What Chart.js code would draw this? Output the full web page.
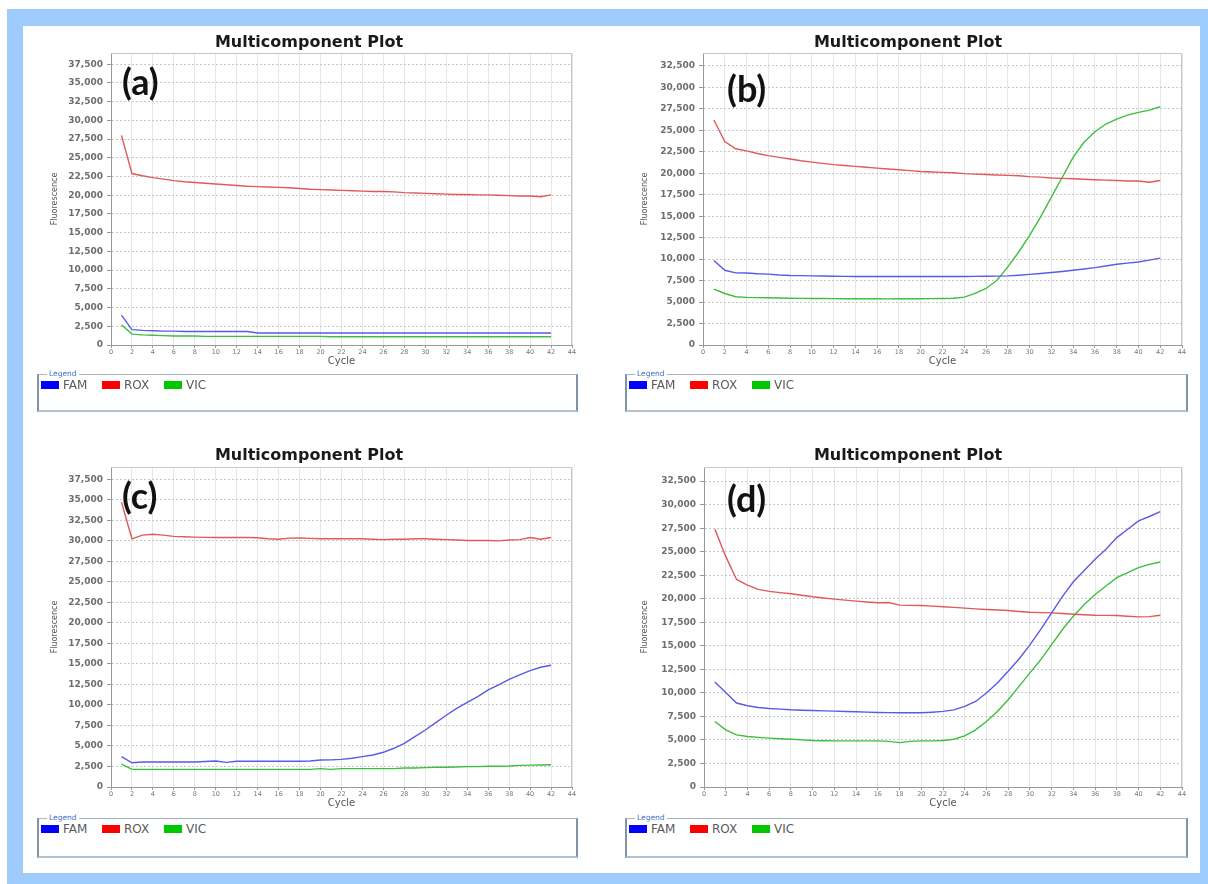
<!DOCTYPE html>
<html><head><meta charset="utf-8">
<script src="https://cdn.jsdelivr.net/npm/chart.js@4.4.1/dist/chart.umd.min.js"></script>
<style>
html,body{margin:0;padding:0;background:#fff;width:1208px;height:884px;overflow:hidden;position:relative}
#frame{position:absolute;left:7px;top:9px;width:1201px;height:875px;background:#9dcbfb}
#inner{position:absolute;left:23px;top:26px;width:1177px;height:847px;background:#fff}
canvas{position:absolute}
.tag{position:absolute;font-family:Lato,"DejaVu Sans",sans-serif;font-weight:700;font-size:36px;line-height:36px;color:#111}
.lg{position:absolute;box-sizing:border-box;border-top:1px solid #a7b5c4;border-left:2px solid #8193a9;border-right:2px solid #8193a9;border-bottom:2px solid #b4c1ce}
.cap{position:absolute;left:8px;top:-5px;font:7.5px "DejaVu Sans";color:#3d6fc9;background:#fff;padding:0 2px;line-height:8px}
.sw{position:absolute;top:6px;width:18px;height:8px}
.tx{position:absolute;top:3px;font:12px "DejaVu Sans";color:#5a5a5a;line-height:14px}
</style></head>
<body>
<div id="frame"></div><div id="inner"></div>
<canvas id="ca" width="536" height="340" style="left:46px;top:30px"></canvas>
<canvas id="cb" width="558" height="340" style="left:634px;top:30px"></canvas>
<canvas id="cc" width="536" height="370" style="left:46px;top:442px"></canvas>
<canvas id="cd" width="558" height="370" style="left:634px;top:442px"></canvas>
<div class="tag" style="left:122px;top:63px">(a)</div>
<div class="tag" style="left:727px;top:70px">(b)</div>
<div class="tag" style="left:122px;top:477px">(c)</div>
<div class="tag" style="left:727px;top:480px">(d)</div>
<div class="lg" id="la" style="left:37px;top:374px;width:541px;height:38px"></div>
<div class="lg" id="lb" style="left:625px;top:374px;width:563px;height:38px"></div>
<div class="lg" id="lc" style="left:37px;top:818px;width:541px;height:40px"></div>
<div class="lg" id="ld" style="left:625px;top:818px;width:563px;height:40px"></div>
<script>
const cycles = [1,2,3,4,5,6,7,8,9,10,11,12,13,14,15,16,17,18,19,20,21,22,23,24,25,26,27,28,29,30,31,32,33,34,35,36,37,38,39,40,41,42];
const seriesNames = ['FAM','ROX','VIC'];
const lineColors = ['#5a5ae6','#e05a5a','#3cbf3c'];
const swatchColors = ['#0000ff','#ff0000','#00c800'];
const xTicks = [0,2,4,6,8,10,12,14,16,18,20,22,24,26,28,30,32,34,36,38,40,42,44];
const yTicksAC = [0,2500,5000,7500,10000,12500,15000,17500,20000,22500,25000,27500,30000,32500,35000,37500];
const yTicksBD = [0,2500,5000,7500,10000,12500,15000,17500,20000,22500,25000,27500,30000,32500];

// Panel (a)
const famA = [4000,2050,1950,1900,1850,1850,1800,1800,1800,1800,1800,1800,1800,1600,1600,1600,1600,1600,1600,1600,1600,1600,1600,1600,1600,1600,1600,1600,1600,1600,1600,1600,1600,1600,1600,1600,1600,1600,1600,1600,1600,1600];
const roxA = [28000,22900,22600,22350,22150,21950,21800,21700,21600,21500,21400,21300,21200,21150,21100,21050,21000,20900,20800,20750,20700,20650,20600,20550,20500,20500,20450,20350,20300,20250,20200,20150,20100,20100,20050,20050,20000,19950,19900,19900,19800,20050];
const vicA = [2700,1450,1350,1300,1250,1200,1200,1200,1150,1150,1150,1150,1150,1150,1150,1150,1150,1150,1150,1150,1100,1100,1100,1100,1100,1100,1100,1100,1100,1100,1100,1100,1100,1100,1100,1100,1100,1100,1100,1100,1100,1100];

// Panel (b)
const famB = [9850,8700,8400,8380,8300,8250,8150,8100,8080,8050,8030,8000,7990,7980,7970,7990,7980,7970,7970,7970,7970,7970,7970,7980,7990,8000,8020,8050,8130,8220,8330,8440,8560,8700,8850,9010,9200,9400,9530,9670,9880,10120];
const roxB = [26200,23700,22850,22600,22300,22050,21850,21650,21450,21300,21150,21000,20900,20800,20700,20600,20500,20400,20300,20200,20150,20100,20050,19950,19900,19850,19800,19750,19700,19600,19550,19450,19400,19350,19300,19250,19200,19150,19100,19100,18950,19150];
const vicB = [6500,6000,5620,5550,5520,5500,5480,5450,5430,5420,5410,5400,5390,5380,5380,5380,5370,5380,5390,5380,5400,5420,5450,5570,6000,6580,7540,9090,10830,12770,14890,17210,19530,21850,23600,24830,25730,26310,26770,27080,27350,27740];

// Panel (c)
const famC = [3700,2950,3050,3050,3050,3050,3050,3050,3100,3170,3000,3130,3130,3130,3130,3130,3130,3130,3170,3290,3300,3370,3500,3700,3900,4230,4720,5330,6140,6950,7840,8740,9590,10320,11010,11830,12440,13130,13660,14180,14590,14840];
const roxC = [34700,30250,30700,30800,30700,30550,30500,30450,30420,30400,30400,30400,30400,30380,30250,30200,30330,30350,30300,30250,30250,30250,30250,30250,30200,30150,30200,30200,30250,30250,30200,30150,30100,30050,30050,30050,30000,30100,30150,30400,30200,30400];
const vicC = [2800,2150,2150,2150,2150,2150,2150,2150,2150,2150,2150,2150,2150,2150,2150,2150,2150,2150,2150,2240,2150,2240,2240,2240,2240,2240,2240,2320,2320,2360,2400,2400,2440,2480,2480,2520,2520,2560,2640,2660,2680,2720];

// Panel (d)
const famD = [11150,10050,8920,8630,8450,8340,8270,8200,8160,8130,8090,8060,8020,7990,7960,7920,7900,7890,7890,7890,7950,8030,8200,8560,9090,9980,11050,12290,13600,15100,16750,18500,20250,21800,23000,24200,25260,26500,27390,28270,28740,29270];
const roxD = [27400,24500,22050,21450,21000,20780,20650,20530,20370,20210,20080,19960,19850,19750,19660,19570,19600,19320,19300,19290,19220,19150,19080,19000,18930,18860,18800,18750,18650,18570,18530,18500,18430,18360,18300,18250,18230,18220,18150,18080,18100,18250];
const vicD = [6960,6070,5540,5360,5270,5190,5130,5080,5010,4940,4920,4900,4900,4900,4900,4900,4850,4720,4850,4900,4900,4940,5080,5430,6070,6960,8030,9270,10690,12120,13530,15130,16730,18150,19400,20460,21350,22240,22770,23300,23660,23900];

const frame = {
  id:'frame',
  afterDatasetsDraw(chart){
    const {ctx, chartArea:{left,top,right,bottom}} = chart;
    ctx.save();
    ctx.strokeStyle='#c6c6c6'; ctx.lineWidth=1;
    ctx.beginPath();
    ctx.moveTo(left, Math.round(top)+0.5);
    ctx.lineTo(Math.round(right)-0.5, Math.round(top)+0.5);
    ctx.lineTo(Math.round(right)-0.5, bottom);
    ctx.stroke();
    ctx.restore();
  }
};

function makeChart(id, series, yMax, yTicks, g){
  const datasets = series.map((arr,k)=>({
    label: seriesNames[k],
    data: cycles.map((c,i)=>({x:c, y:arr[i]})),
    borderColor: lineColors[k],
    borderWidth: 1.4,
    pointRadius: 0,
    tension: 0,
    fill: false
  }));
  new Chart(document.getElementById(id), {
    type:'line',
    data:{datasets},
    options:{
      responsive:false, animation:false, devicePixelRatio:1,
      layout:{padding:{left:0,right:10,top:0,bottom:0}},
      plugins:{
        legend:{display:false}, tooltip:{enabled:false},
        title:{display:true, text:'Multicomponent Plot', color:'#1a1a1a',
          font:{family:'DejaVu Sans', size:16, weight:'bold', lineHeight:1.125},
          padding:{top:g.tpt, bottom:g.tpb}}
      },
      scales:{
        x:{
          type:'linear', min:0, max:44,
          afterBuildTicks:s=>{ s.ticks = xTicks.map(v=>({value:v})); },
          afterFit:s=>{ s.height = g.xH; },
          ticks:{font:{family:'DejaVu Sans', size:6.5}, color:'#777', padding:0, maxRotation:0, autoSkip:false},
          grid:{color:'#e6e6e6', tickColor:'#999', tickLength:3, tickBorderDash:[]},
          border:{color:'#9a9a9a'},
          title:{display:true, text:'Cycle', color:'#555', font:{family:'DejaVu Sans', size:10, lineHeight:1.2}, padding:{top:0,bottom:3}}
        },
        y:{
          min:0, max:yMax,
          afterBuildTicks:s=>{ s.ticks = yTicks.map(v=>({value:v})); },
          afterFit:s=>{ s.width = g.yW; },
          ticks:{font:{family:'DejaVu Sans', size:9, weight:'bold'}, color:'#6e6e6e', padding:4,
            callback:v=>v.toLocaleString('en-US')},
          grid:{color:'#c8c8c8', tickColor:'#999', tickLength:4, tickBorderDash:[]},
          border:{color:'#9a9a9a', dash:[2,2]},
          title:{display:true, text:'Fluorescence', color:'#555', font:{family:'DejaVu Sans', size:8, lineHeight:1.2}, padding:{top:g.ytPad, bottom:0}}
        }
      }
    },
    plugins:[frame]
  });
}

makeChart('ca', [famA, roxA, vicA], 39000, yTicksAC, {tpt:4, tpb:1, xH:25, yW:65, ytPad:4});
makeChart('cb', [famB, roxB, vicB], 34000, yTicksBD, {tpt:4, tpb:1, xH:25, yW:69, ytPad:6});
makeChart('cc', [famC, roxC, vicC], 39000, yTicksAC, {tpt:5, tpb:2, xH:25, yW:65, ytPad:4});
makeChart('cd', [famD, roxD, vicD], 34000, yTicksBD, {tpt:5, tpb:2, xH:25, yW:70, ytPad:6});

// legends
const swLeft = [2,63,125], txLeft = [24,85,147];
['la','lb','lc','ld'].forEach(id=>{
  const box = document.getElementById(id);
  let html = '<span class="cap">Legend</span>';
  seriesNames.forEach((n,k)=>{
    html += '<span class="sw" style="left:'+swLeft[k]+'px;background:'+swatchColors[k]+'"></span>';
    html += '<span class="tx" style="left:'+txLeft[k]+'px">'+n+'</span>';
  });
  box.innerHTML = html;
});
</script>
</body></html>
